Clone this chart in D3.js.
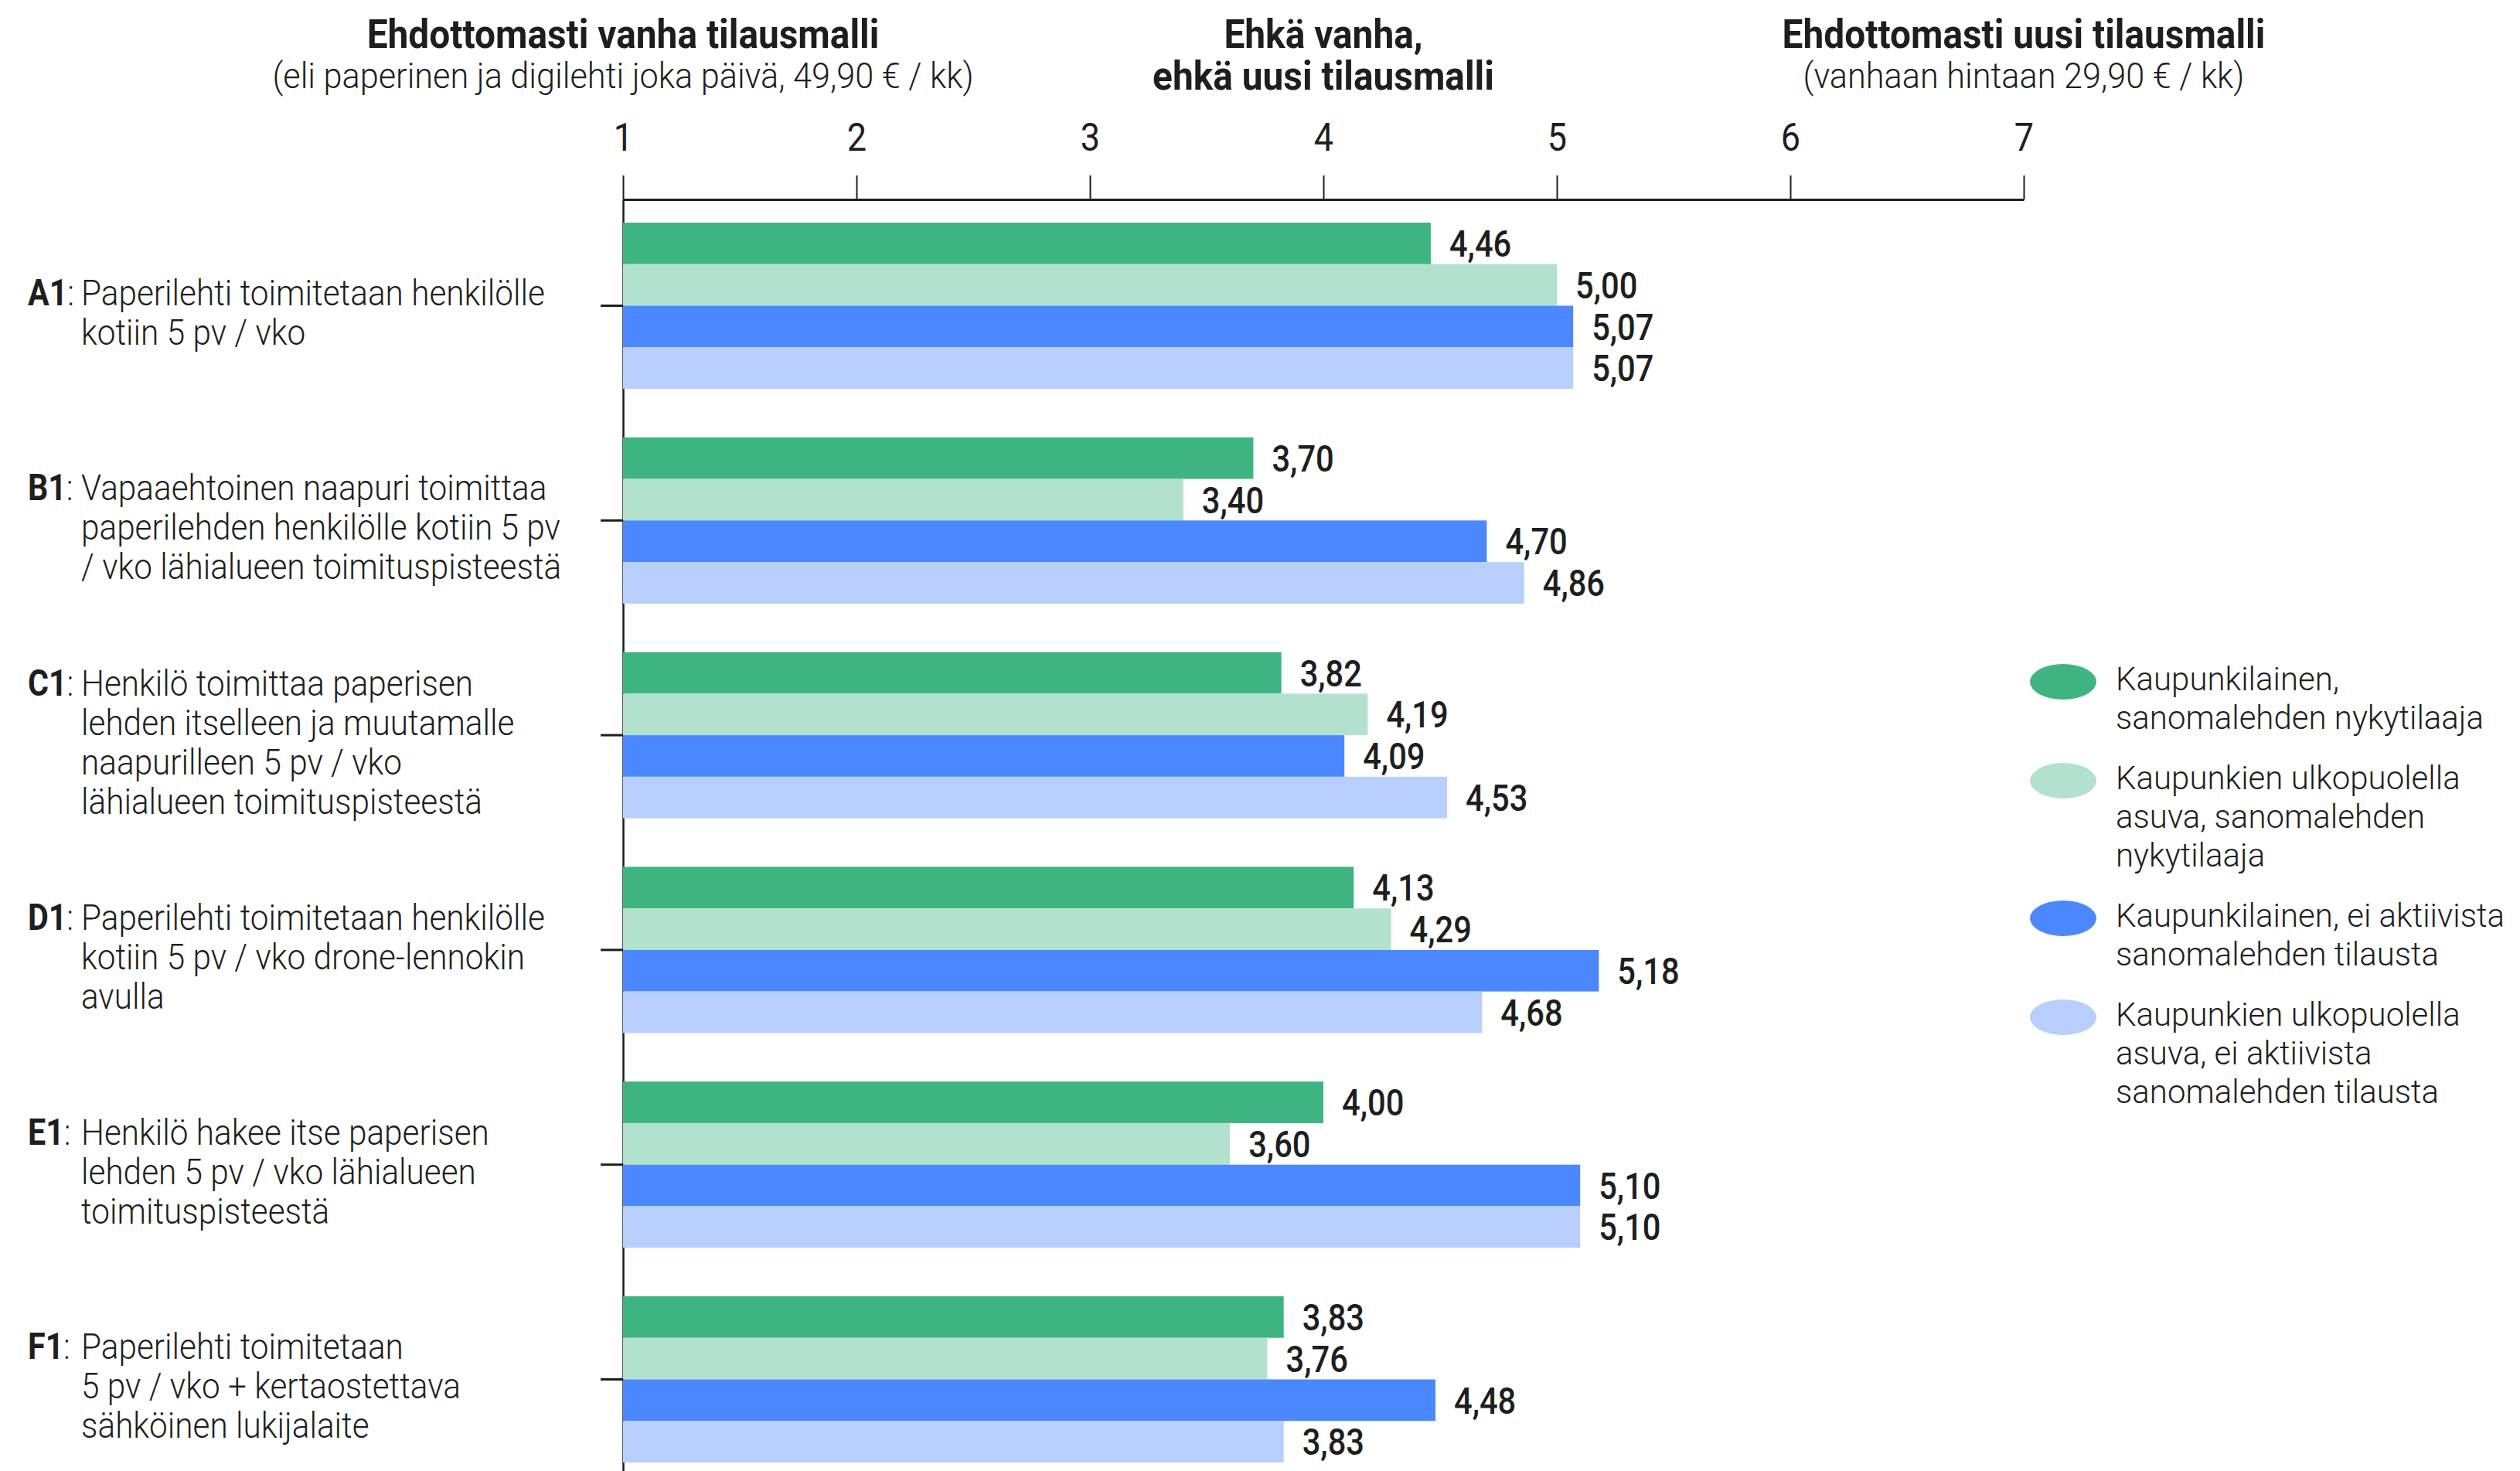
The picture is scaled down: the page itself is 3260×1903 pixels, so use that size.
<!DOCTYPE html>
<html>
<head>
<meta charset="utf-8">
<script src="https://cdn.jsdelivr.net/npm/d3@7"></script>
<style>
	body { margin: 0; background: #fff; }
	svg { display: block; font-family: Roboto, "Noto Sans", sans-serif; }
</style>
</head>
<body>
<svg></svg>
<script>
const codes = ['A1', 'B1', 'C1', 'D1', 'E1', 'F1'];
const labelLines = [
	['Paperilehti toimitetaan henkilölle', 'kotiin 5 pv / vko'],
	['Vapaaehtoinen naapuri toimittaa', 'paperilehden henkilölle kotiin 5 pv', '/ vko lähialueen toimituspisteestä'],
	['Henkilö toimittaa paperisen', 'lehden itselleen ja muutamalle', 'naapurilleen 5 pv / vko', 'lähialueen toimituspisteestä'],
	['Paperilehti toimitetaan henkilölle', 'kotiin 5 pv / vko drone-lennokin', 'avulla'],
	['Henkilö hakee itse paperisen', 'lehden 5 pv / vko lähialueen', 'toimituspisteestä'],
	['Paperilehti toimitetaan', '5 pv / vko + kertaostettava', 'sähköinen lukijalaite']
];

const seriesKeys = ['kaupNyky', 'ulkoNyky', 'kaupEi', 'ulkoEi'];
const seriesNames = [
	['Kaupunkilainen,', 'sanomalehden nykytilaaja'],
	['Kaupunkien ulkopuolella', 'asuva, sanomalehden', 'nykytilaaja'],
	['Kaupunkilainen, ei aktiivista', 'sanomalehden tilausta'],
	['Kaupunkien ulkopuolella', 'asuva, ei aktiivista', 'sanomalehden tilausta']
];
const seriesColors = ['#3eb580', '#b2e2cd', '#4b88ff', '#b8cffd'];

const kaupNyky = [4.46, 3.70, 3.82, 4.13, 4.00, 3.83];
const ulkoNyky = [5.00, 3.40, 4.19, 4.29, 3.60, 3.76];
const kaupEi   = [5.07, 4.70, 4.09, 5.18, 5.10, 4.48];
const ulkoEi   = [5.07, 4.86, 4.53, 4.68, 5.10, 3.83];
const seriesValues = [kaupNyky, ulkoNyky, kaupEi, ulkoEi];

const tickValues = [1, 2, 3, 4, 5, 6, 7];
const headers = [
	{at: 1, lines: ['Ehdottomasti vanha tilausmalli', '(eli paperinen ja digilehti joka päivä, 49,90 € / kk)'], boldSecond: false},
	{at: 4, lines: ['Ehkä vanha,', 'ehkä uusi tilausmalli'], boldSecond: true},
	{at: 7, lines: ['Ehdottomasti uusi tilausmalli', '(vanhaan hintaan 29,90 € / kk)'], boldSecond: false}
];

const INK = '#1e1e1e';

const svg = d3.select('svg').attr('width', 3260).attr('height', 1903);

const x = d3.scaleLinear().domain([1, 7]).range([806, 2618]);
const y = d3.scaleBand().domain(codes).range([258, 1922]).paddingInner(0.226).paddingOuter(0.108);
const ySub = d3.scaleBand().domain(seriesKeys).range([0, y.bandwidth()]);

const fi = d3.formatLocale({decimal: ',', thousands: ' ', grouping: [3], currency: ['', ' €']});
const fmt = fi.format('.2f');

// otsikot akselin yläpuolella
headers.forEach(h => {
	const g = svg.append('g').attr('transform', `translate(${x(h.at)},0)`);
	g.append('text')
		.attr('transform', 'translate(0,62) scale(0.92,1)')
		.attr('text-anchor', 'middle')
		.attr('font-size', 52).attr('font-weight', 700).attr('fill', INK)
		.text(h.lines[0]);
	g.append('text')
		.attr('transform', h.boldSecond ? 'translate(0,116) scale(0.92,1)' : 'translate(0,114) scale(0.94,1)')
		.attr('text-anchor', 'middle')
		.attr('font-size', h.boldSecond ? 52 : 46)
		.attr('font-weight', h.boldSecond ? 700 : 300)
		.attr('fill', INK)
		.text(h.lines[1]);
});

// x-akseli ylhäällä
const xAxis = svg.append('g')
	.attr('transform', 'translate(0,258)')
	.call(d3.axisTop(x).tickValues(tickValues).tickSize(31).tickSizeOuter(0).tickPadding(32).tickFormat(d3.format('d')));
xAxis.select('.domain').attr('stroke', INK).attr('stroke-width', 3);
xAxis.selectAll('.tick line').attr('stroke', INK).attr('stroke-width', 2);
xAxis.selectAll('.tick text')
	.attr('font-size', 50).attr('font-family', 'Roboto').attr('fill', INK)
	.attr('transform', 'scale(0.9,1)');

// y-akseli
const yAxis = svg.append('g')
	.attr('transform', `translate(${x(1)},0)`)
	.call(d3.axisLeft(y).tickSize(29).tickSizeOuter(0).tickFormat(''));
yAxis.select('.domain').attr('stroke', INK).attr('stroke-width', 2.5);
yAxis.selectAll('.tick line').attr('stroke', INK).attr('stroke-width', 3);

// palkit
const groups = svg.append('g').selectAll('g.grp')
	.data(codes)
	.join('g')
	.attr('class', 'grp')
	.attr('transform', d => `translate(0,${y(d)})`);

groups.each(function(code, ci) {
	const rows = seriesKeys.map((k, si) => ({key: k, value: seriesValues[si][ci], color: seriesColors[si]}));
	const g = d3.select(this);
	g.selectAll('rect')
		.data(rows)
		.join('rect')
		.attr('x', x(1))
		.attr('y', d => ySub(d.key))
		.attr('width', d => x(d.value) - x(1))
		.attr('height', ySub.bandwidth())
		.attr('fill', d => d.color);
	g.selectAll('text.val')
		.data(rows)
		.join('text')
		.attr('class', 'val')
		.attr('transform', d => `translate(${x(d.value) + 24},${ySub(d.key) + ySub.bandwidth() / 2}) scale(0.85,1)`)
		.attr('dy', '0.35em')
		.attr('font-size', 49).attr('font-weight', 500).attr('fill', INK)
		.text(d => fmt(d.value));
});

// kategoriat
const LINE = 51;
codes.forEach((code, ci) => {
	const lines = labelLines[ci];
	const cy = y(code) + y.bandwidth() / 2;
	const first = cy + 13 - (lines.length - 1) * LINE / 2 + 12;
	const t = svg.append('text')
		.attr('transform', `translate(36,${first}) scale(0.86,1)`)
		.attr('fill', INK).attr('font-size', 46);
	t.append('tspan').attr('font-weight', 700).attr('font-size', 48).text(code);
	t.append('tspan').attr('font-weight', 300).text(':');
	lines.forEach((ln, i) => {
		svg.append('text')
			.attr('transform', `translate(105,${first + i * LINE}) scale(0.92,1)`)
			.attr('font-size', 46).attr('font-weight', 300).attr('fill', INK)
			.text(ln);
	});
});

// selite
const legend = svg.append('g');
let base = 893;
seriesNames.forEach((lines, si) => {
	legend.append('ellipse')
		.attr('cx', 2669).attr('cy', base - 11)
		.attr('rx', 43).attr('ry', 23)
		.attr('fill', seriesColors[si]);
	lines.forEach((ln, i) => {
		legend.append('text')
			.attr('x', 2737).attr('y', base + i * 50)
			.attr('font-size', 42).attr('font-weight', 300).attr('fill', INK)
			.text(ln);
	});
	base += lines.length * 50 + 28;
});
</script>
</body>
</html>
